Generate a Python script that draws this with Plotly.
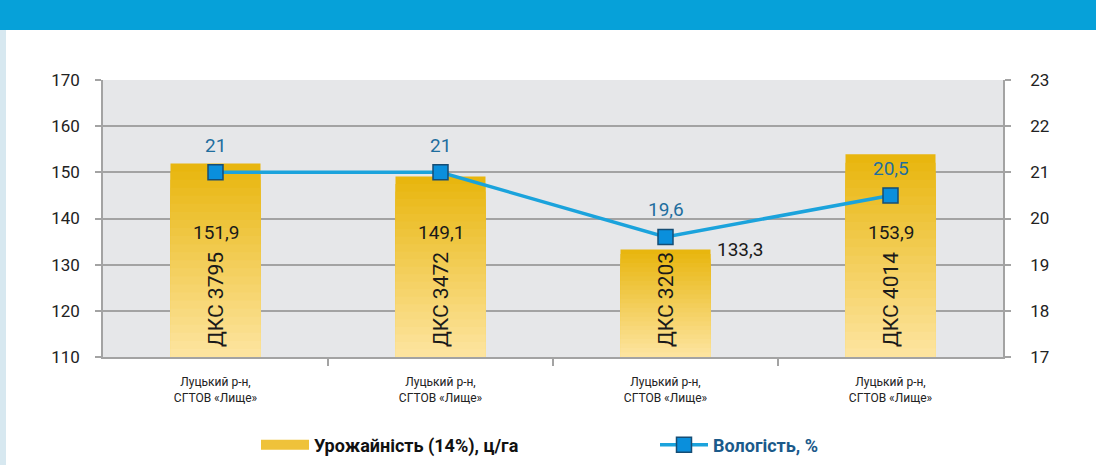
import plotly.graph_objects as go

# data
hybrids = ["ДКС 3795", "ДКС 3472", "ДКС 3203", "ДКС 4014"]
locations = ["Луцький р-н,<br>СГТОВ «Лище»"] * 4
yield_vals = [151.9, 149.1, 133.3, 153.9]
moisture_vals = [21, 21, 19.6, 20.5]

FONT = "Roboto, Liberation Sans, sans-serif"
W, H = 1096, 465
L, R, T, B = 103, 93, 80, 108
BASE = 110

def fmt(v):
    return (f"{v:g}").replace(".", ",")

def mix(c1, c2, t):
    a = [int(c1[i:i + 2], 16) for i in (1, 3, 5)]
    b = [int(c2[i:i + 2], 16) for i in (1, 3, 5)]
    return "#%02x%02x%02x" % tuple(round(a[j] + (b[j] - a[j]) * t) for j in range(3))

xs = list(range(len(hybrids)))
GOLD_TOP, GOLD_BOT = "#e8b60f", "#fde49e"

fig = go.Figure()
# bars with a vertical gold gradient: overlaid layers, each shorter & lighter
N = 24
for k in range(N):
    f = 1 - k / N
    fig.add_trace(go.Bar(
        x=xs, y=[(v - BASE) * f for v in yield_vals], base=BASE,
        width=0.4,
        marker=dict(color=mix(GOLD_TOP, GOLD_BOT, k / (N - 1)), line=dict(width=0)),
        showlegend=False, hoverinfo="skip",
    ))
# legend entry for bars (wide swatch)
fig.add_trace(go.Scatter(
    x=[None], y=[None], mode="lines",
    line=dict(color="#efc23a", width=10),
    name="<b>Урожайність (14%), ц/га</b>",
    legend="legend",
))
fig.add_trace(go.Scatter(
    x=xs, y=moisture_vals, yaxis="y2",
    mode="lines+markers",
    line=dict(color="#1ba3dc", width=3.5),
    marker=dict(symbol="square", size=15, color="#0a8fdc",
                line=dict(color="#164d74", width=1.5)),
    name="<b>Вологість, %</b>",
    legend="legend2",
))

ann = []
for i, v in enumerate(yield_vals):
    if v - BASE < 30:
        # short bar: value to the right of the bar top
        ann.append(dict(x=i + 0.2, y=v, text=fmt(v), showarrow=False,
                        xanchor="left", yanchor="middle", xshift=4,
                        font=dict(size=19, color="#1a1a1a", family=FONT)))
    else:
        ann.append(dict(x=i, y=BASE, text=fmt(v), showarrow=False,
                        yanchor="middle", yshift=125,
                        font=dict(size=19, color="#1a1a1a", family=FONT)))
    ann.append(dict(x=i, y=BASE, text=hybrids[i], showarrow=False, textangle=-90,
                    yanchor="bottom", yshift=8,
                    font=dict(size=21, color="#1a1a1a", family=FONT)))
for i, m in enumerate(moisture_vals):
    ann.append(dict(x=i, y=m, yref="y2", text=fmt(m), showarrow=False,
                    yanchor="middle", yshift=27,
                    font=dict(size=19, color="#1f6e9e", family=FONT)))

# page decoration: blue header band and pale left strip
shapes = [
    dict(type="rect", xref="paper", yref="paper", x0=-L / (W - L - R), x1=(W - L) / (W - L - R),
         y0=(H - B - 30) / (H - T - B), y1=(H - B) / (H - T - B),
         fillcolor="#06a1d9", line=dict(width=0), layer="below"),
    dict(type="rect", xref="paper", yref="paper", x0=-L / (W - L - R), x1=(6 - L) / (W - L - R),
         y0=-B / (H - T - B), y1=(H - B - 30) / (H - T - B),
         fillcolor="#d7e8f0", line=dict(width=0), layer="below"),
]

fig.update_layout(
    width=W, height=H,
    margin=dict(l=L, r=R, t=T, b=B),
    paper_bgcolor="white",
    plot_bgcolor="#e6e7e9",
    barmode="overlay",
    font=dict(family=FONT, color="#1a1a1a"),
    showlegend=True,
    legend=dict(orientation="h", xref="container", x=256 / W, xanchor="left",
                yref="container", y=(H - 445) / H, yanchor="middle",
                font=dict(size=18, color="#111111", family=FONT),
                itemwidth=48, bgcolor="rgba(0,0,0,0)"),
    legend2=dict(orientation="h", xref="container", x=655 / W, xanchor="left",
                 yref="container", y=(H - 445) / H, yanchor="middle",
                 font=dict(size=18, color="#1b5a8a", family=FONT),
                 itemwidth=48, bgcolor="rgba(0,0,0,0)"),
    xaxis=dict(range=[-0.5, 3.5], tickvals=xs, ticktext=locations, ticks="",
               showgrid=False, zeroline=False, showline=True, linecolor="#a3a3a3", linewidth=1.5,
               tickfont=dict(size=12, color="#222222", family=FONT), ticklabelstandoff=13,
               minor=dict(tickvals=[0.5, 1.5, 2.5], ticks="outside", ticklen=7,
                          tickcolor="#a3a3a3", tickwidth=1.5)),
    yaxis=dict(range=[110, 170], dtick=10, ticks="outside", ticklen=6, tickcolor="#a3a3a3",
               tickwidth=1.5, showgrid=True, gridcolor="#a3a3a3", gridwidth=1.5,
               showline=True, linecolor="#a3a3a3", linewidth=1.5, zeroline=False,
               tickfont=dict(size=17, color="#222222", family=FONT), ticklabelstandoff=12),
    yaxis2=dict(range=[17, 23], dtick=1, overlaying="y", side="right", ticks="outside",
                ticklen=6, tickcolor="#a3a3a3", tickwidth=1.5, showgrid=False,
                showline=True, linecolor="#a3a3a3", linewidth=1.5, zeroline=False,
                tickfont=dict(size=17, color="#222222", family=FONT), ticklabelstandoff=16),
    annotations=ann,
    shapes=shapes,
)

fig.write_html("out.html", config={"displayModeBar": False},
               post_script="document.body.style.margin='0px';document.body.style.overflow='hidden';")
